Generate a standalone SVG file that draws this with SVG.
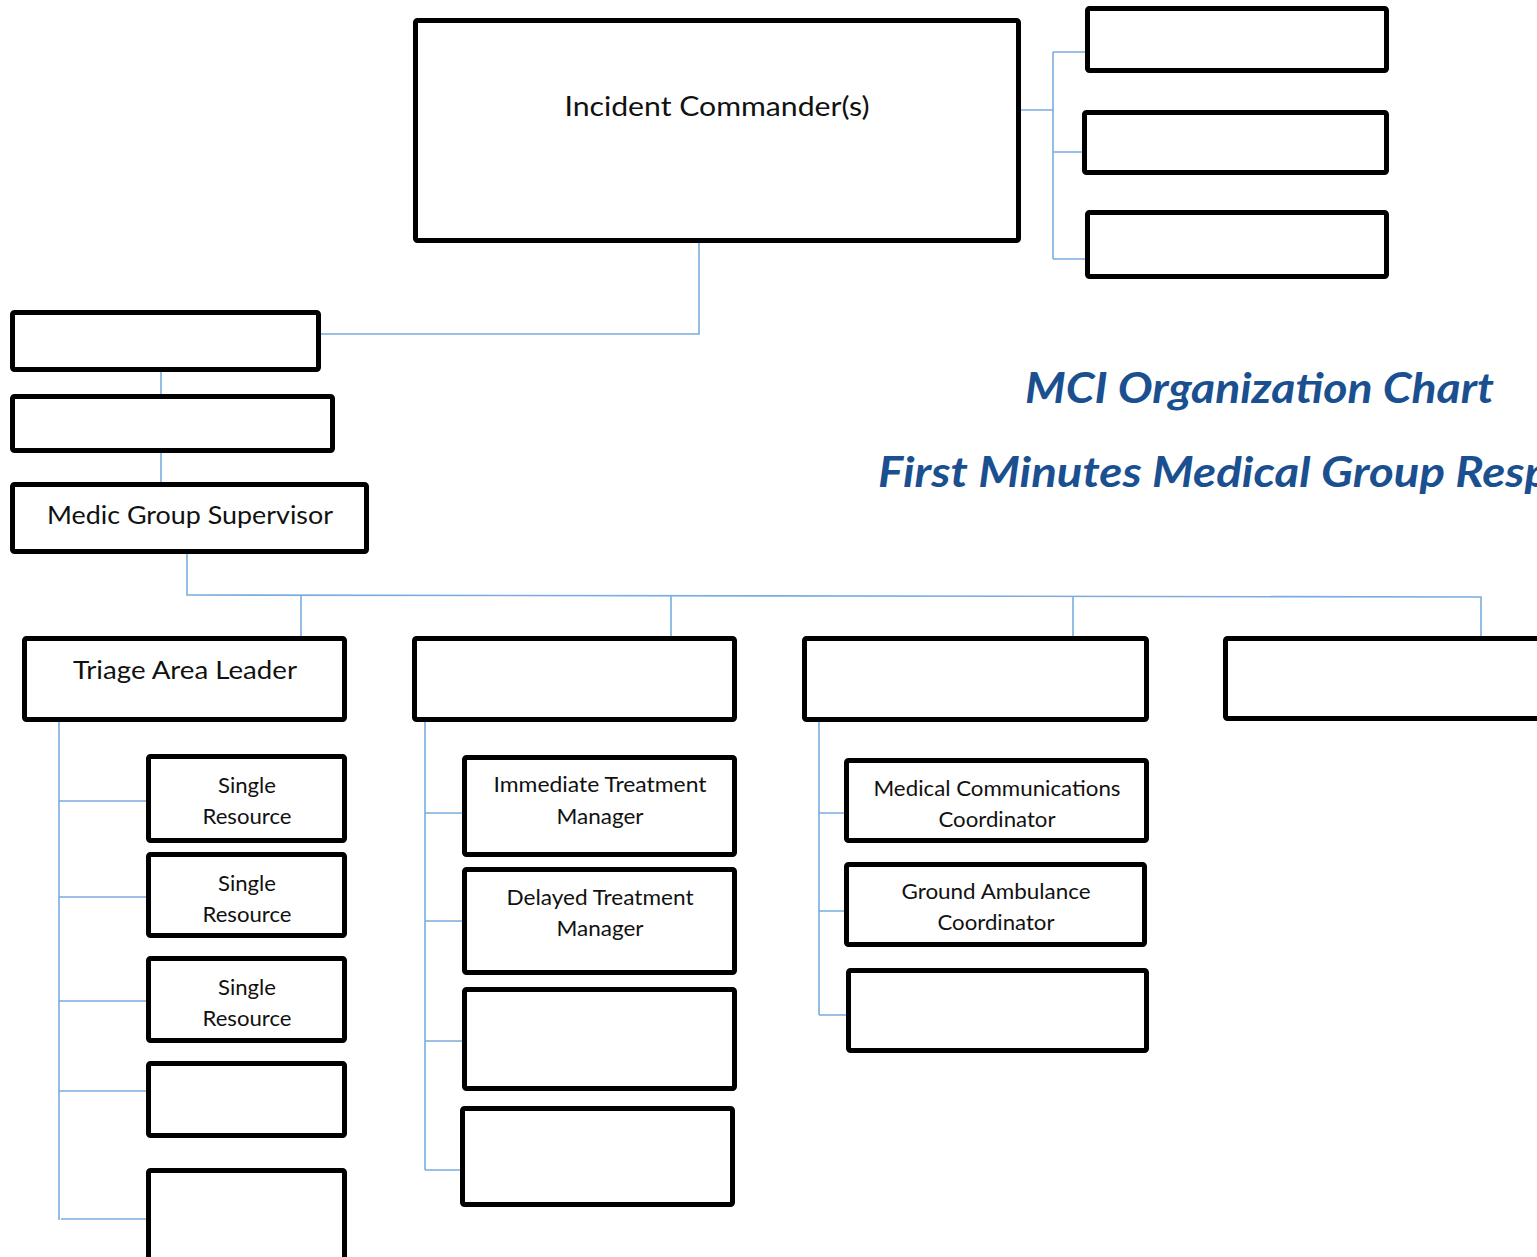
<svg xmlns="http://www.w3.org/2000/svg" width="1537" height="1257" viewBox="0 0 1537 1257">
  <style>
    .box { fill: #ffffff; stroke: #000000; stroke-width: 5; stroke-linejoin: round; }
    .wire { fill: none; stroke: #7aaddd; stroke-width: 1.6; }
    .lbl { font-family: Lato, "Open Sans", "Liberation Sans", sans-serif; fill: #111111; text-anchor: middle; }
    .title { font-family: Lato, "Open Sans", "Liberation Sans", sans-serif; font-weight: bold; font-style: italic; fill: #1a5090; }
  </style>
  <rect width="1537" height="1257" fill="#ffffff"/>

  <!-- connectors -->
  <g id="connectors">
    <!-- commander to staff column -->
    <path class="wire" d="M1021 110 H1053 M1053 52 V259 M1053 52 H1085 M1053 152 H1083 M1053 259 H1086"/>
    <!-- commander down to left chain -->
    <path class="wire" d="M699 243 V334 H321"/>
    <path class="wire" d="M161 372 V394 M161 453 V482"/>
    <!-- supervisor to branch leaders -->
    <path class="wire" d="M187 554 V595 L1481 597 V638"/>
    <path class="wire" d="M301 595 V638 M671 595.5 V638 M1073 596 V638"/>
    <!-- triage column -->
    <path class="wire" d="M59 722 V1220 M59 801 H149 M59 897 H149 M59 1001 H149 M59 1091 H149 M61 1219 H151"/>
    <!-- treatment column -->
    <path class="wire" d="M425 722 V1170 M425 813 H464 M425 921 H464 M425 1041 H464 M425 1170 H462"/>
    <!-- transport column -->
    <path class="wire" d="M819 722 V1015 M819 813 H846 M819 911 H846 M819 1015 H848"/>
  </g>

  <!-- command level -->
  <g id="incident-commander">
    <rect class="box" x="415.5" y="20.5" width="603" height="220" rx="2"/>
    <text class="lbl" x="717" y="116" font-size="27" textLength="305" lengthAdjust="spacingAndGlyphs">Incident Commander(s)</text>
  </g>
  <g id="staff-1"><rect class="box" x="1087.5" y="8.5" width="299" height="62" rx="2"/></g>
  <g id="staff-2"><rect class="box" x="1084.5" y="112.5" width="302" height="60" rx="2"/></g>
  <g id="staff-3"><rect class="box" x="1087.5" y="212.5" width="299" height="64" rx="2"/></g>

  <!-- left chain -->
  <g id="chain-1"><rect class="box" x="12.5" y="312.5" width="306" height="57" rx="2"/></g>
  <g id="chain-2"><rect class="box" x="12.5" y="396.5" width="320" height="54" rx="2"/></g>
  <g id="medic-group-supervisor">
    <rect class="box" x="12.5" y="484.5" width="354" height="67" rx="2"/>
    <text class="lbl" x="190" y="524" font-size="25" textLength="286" lengthAdjust="spacingAndGlyphs">Medic Group Supervisor</text>
  </g>

  <!-- titles -->
  <g id="titles">
    <text class="title" x="1025" y="403" font-size="42" textLength="469" lengthAdjust="spacingAndGlyphs">MCI Organization Chart</text>
    <text class="title" x="878" y="487" font-size="42" textLength="765" lengthAdjust="spacingAndGlyphs">First Minutes Medical Group Response</text>
  </g>

  <!-- branch leaders -->
  <g id="triage-area-leader">
    <rect class="box" x="24.5" y="638.5" width="320" height="81" rx="2"/>
    <text class="lbl" x="185" y="679" font-size="25" textLength="224" lengthAdjust="spacingAndGlyphs">Triage Area Leader</text>
  </g>
  <g id="leader-2"><rect class="box" x="414.5" y="638.5" width="320" height="81" rx="2"/></g>
  <g id="leader-3"><rect class="box" x="804.5" y="638.5" width="342" height="81" rx="2"/></g>
  <g id="leader-4"><rect class="box" x="1225.5" y="638.5" width="330" height="80" rx="2"/></g>

  <!-- triage resources -->
  <g id="single-resource-1">
    <rect class="box" x="148.5" y="756.5" width="196" height="84" rx="2"/>
    <text class="lbl" x="247" y="793" font-size="21" textLength="58" lengthAdjust="spacingAndGlyphs">Single</text>
    <text class="lbl" x="247" y="824" font-size="21" textLength="89" lengthAdjust="spacingAndGlyphs">Resource</text>
  </g>
  <g id="single-resource-2">
    <rect class="box" x="148.5" y="854.5" width="196" height="81" rx="2"/>
    <text class="lbl" x="247" y="891" font-size="21" textLength="58" lengthAdjust="spacingAndGlyphs">Single</text>
    <text class="lbl" x="247" y="922" font-size="21" textLength="89" lengthAdjust="spacingAndGlyphs">Resource</text>
  </g>
  <g id="single-resource-3">
    <rect class="box" x="148.5" y="958.5" width="196" height="82" rx="2"/>
    <text class="lbl" x="247" y="995" font-size="21" textLength="58" lengthAdjust="spacingAndGlyphs">Single</text>
    <text class="lbl" x="247" y="1026" font-size="21" textLength="89" lengthAdjust="spacingAndGlyphs">Resource</text>
  </g>
  <g id="triage-4"><rect class="box" x="148.5" y="1063.5" width="196" height="72" rx="2"/></g>
  <g id="triage-5"><rect class="box" x="148.5" y="1170.5" width="196" height="100" rx="2"/></g>

  <!-- treatment managers -->
  <g id="immediate-treatment-manager">
    <rect class="box" x="464.5" y="757.5" width="270" height="97" rx="2"/>
    <text class="lbl" x="600" y="792" font-size="21" textLength="213" lengthAdjust="spacingAndGlyphs">Immediate Treatment</text>
    <text class="lbl" x="600" y="824" font-size="21" textLength="87" lengthAdjust="spacingAndGlyphs">Manager</text>
  </g>
  <g id="delayed-treatment-manager">
    <rect class="box" x="464.5" y="869.5" width="270" height="103" rx="2"/>
    <text class="lbl" x="600" y="905" font-size="21" textLength="187" lengthAdjust="spacingAndGlyphs">Delayed Treatment</text>
    <text class="lbl" x="600" y="936" font-size="21" textLength="87" lengthAdjust="spacingAndGlyphs">Manager</text>
  </g>
  <g id="treatment-3"><rect class="box" x="464.5" y="989.5" width="270" height="99" rx="2"/></g>
  <g id="treatment-4"><rect class="box" x="462.5" y="1108.5" width="270" height="96" rx="2"/></g>

  <!-- transport coordinators -->
  <g id="medical-communications-coordinator">
    <rect class="box" x="846.5" y="760.5" width="300" height="80" rx="2"/>
    <text class="lbl" x="997" y="796" font-size="21" textLength="247" lengthAdjust="spacingAndGlyphs">Medical Communications</text>
    <text class="lbl" x="997" y="827" font-size="21" textLength="117" lengthAdjust="spacingAndGlyphs">Coordinator</text>
  </g>
  <g id="ground-ambulance-coordinator">
    <rect class="box" x="846.5" y="864.5" width="298" height="80" rx="2"/>
    <text class="lbl" x="996" y="899" font-size="21" textLength="189" lengthAdjust="spacingAndGlyphs">Ground Ambulance</text>
    <text class="lbl" x="996" y="930" font-size="21" textLength="117" lengthAdjust="spacingAndGlyphs">Coordinator</text>
  </g>
  <g id="transport-3"><rect class="box" x="848.5" y="970.5" width="298" height="80" rx="2"/></g>
</svg>
